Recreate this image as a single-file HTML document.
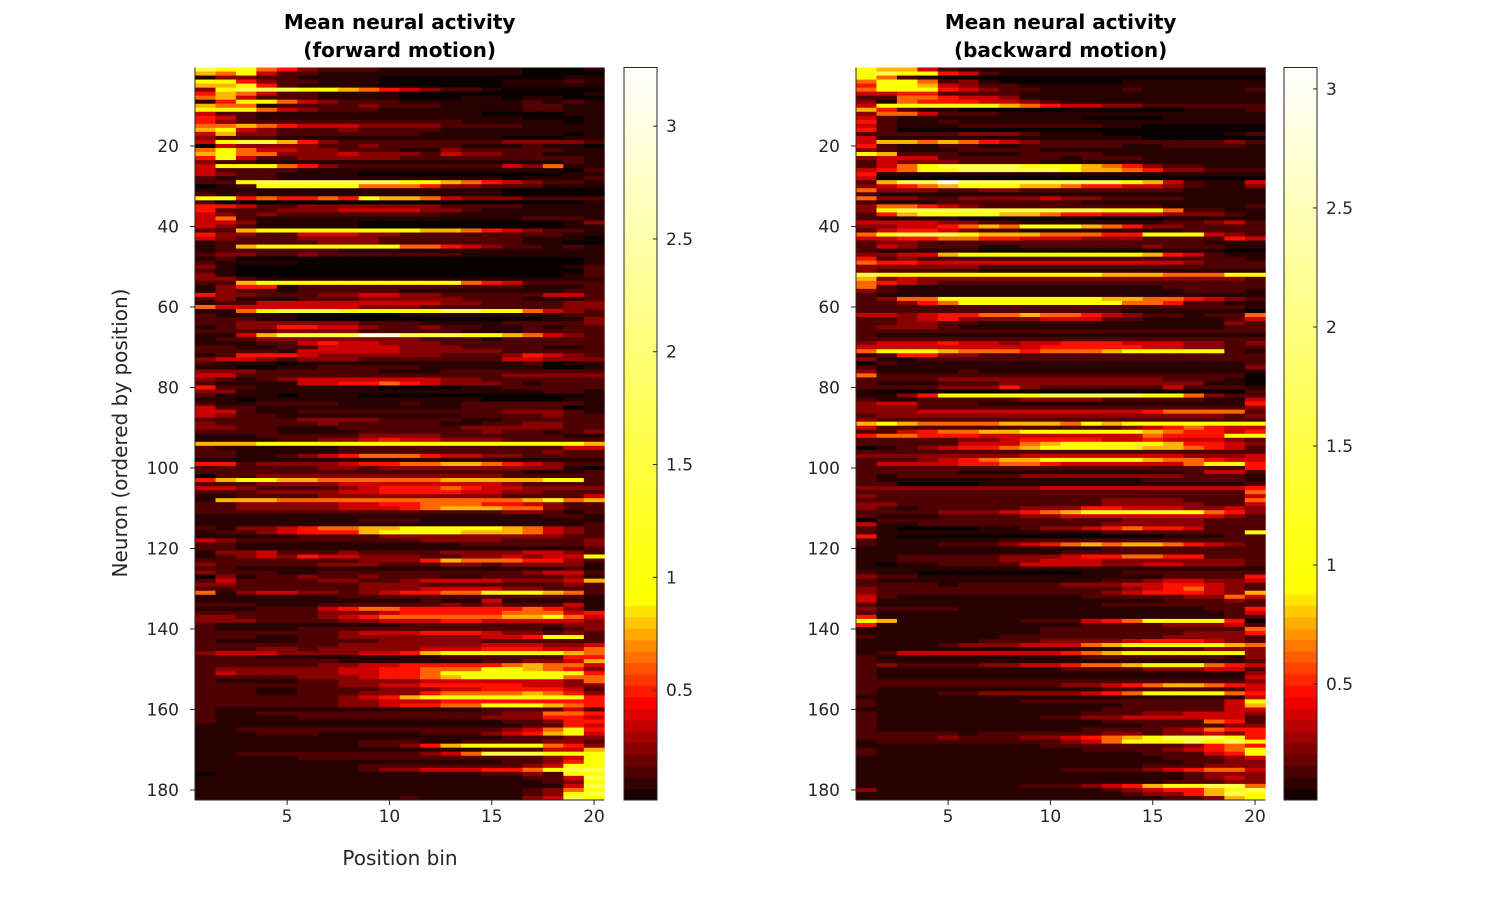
<!DOCTYPE html>
<html><head><meta charset="utf-8"><style>
html,body{margin:0;padding:0;background:#fff;}
svg{display:block;font-family:"DejaVu Sans","Liberation Sans",sans-serif;}
</style></head><body>
<svg id="fig" width="1500" height="900" viewBox="0 0 1500 900" xmlns="http://www.w3.org/2000/svg">
<rect width="1500" height="900" fill="#fff"/>
</svg>
<script>
// level code -> value
const levelCodes = ['0','1','2','3','4','5','6','7','8','9','w'];
const levelValues = [0.015,0.07,0.14,0.24,0.36,0.48,0.63,0.77,0.95,1.6,3.0];
const xTicks = [5,10,15,20];
const yTicks = [20,40,60,80,100,120,140,160,180];
const fwdCbTicks = [0.5,1,1.5,2,2.5,3];
const bwdCbTicks = [0.5,1,1.5,2,2.5,3];
const fwdRange = [0.013,3.26];
const bwdRange = [0.013,3.09];
const fwdRows = [
"98865322211111110001","76842211111111110000","13322111100000000011","88532211100000011121","77852111100000011111",
"38999887654322100000","57642211110000000001","67422211110001101100","15886432221111112121","76612222322211112211",
"88864322211111112211","42211111111111000011","54211111111111110001","53222222222221111101","66765444333322221111",
"78432223222211111111","47332222222111111101","32221111111111100011","48997532222222233332","04333322322221112110",
"68644332221132222211","78663334333243322111","58422333332222222221","32211111111111111121","48886532222222243611",
"42222111111111111102","43221111000000000011","21221111111111101112","22899999998876543221","01288888666533222111",
"11111111111111100000","21211111111111100000","88565565877643332222","20000000000000000001","55422333333322221111",
"52223334444332111111","43232222222211111111","46211111111111112221","44311111000000000013","43211111000000000011",
"22788888888776543221","53322444332222222211","43222333322222221110","12222233322222221100","12788888886654322121",
"12222221111111111111","23322322222221111111","12000000000000000001","21111000000000000001","31000000000000000012",
"21000000000000000002","31000000000000000012","33211111111111111111","22788888888886542222","13551222222222221112",
"13221222221111111122","53322233443322222442","23111222333332221112","12244444444433222233","64444444333222222233",
"11689998888899886432","21111000001111111122","22211000000000000113","22333333222111122223","12335544322322112122",
"22223333222221112222","11479999ww9998876432","12233333333222122222","11122454433322222222","22112244443332222112",
"22221444443333322222","12555433333322235432","34432333222222244333","21110111111111112011","11001122222111111001",
"33322222211122222222","44222222222222233333","32123444444433222222","21111445565433321222","52211111100001122222",
"33111111111111111221","21110111000000000001","11011111111111000011","21122221112112222221","42211111111112222201",
"44211222222222233321","43221111111112222322","22222333322221122222","32222232222211223322","33221112222223333322",
"22221111222222322123","11122222333322222211","11112233454433322222","77788888888888888887","21111112222222222244",
"22111112222222222322","22112345666544332222","11111111111111111111","55233334556677654322","22222233233333333310",
"22222222222222221112","02233333333333322222","57887766666677777882","22233334444444432222","44322223455565443333",
"22233334455554433222","11222233333333322224","17776666666666667867","22333334455666554322","22333334445677766322",
"22222222222222233212","11111111111111111221","11111111222111111111","11111111111111111112","21334566778888876432",
"12234555788887776432","11111222233333333322","43222222222333322223","22111111111112222223","22111111111111111112",
"13342223222233334432","12343544333223343448","22222222333576665532","32222233322233233331","22111111111111111121",
"32221122222222223442","03122322322211222231","24222233223444433347","33222222333222222232","22222222333444433222",
"61344332345566888762","11111112222222222221","11111111111211411111","22211122222232322241","11122245665555556531",
"22222233345555566645","33222234566666677864","33322223344455444443","21111111112222222233","21111222222222222123",
"22222223444555433232","22211223333333445882","21111222233333222222","22222223333333444334","22233233333444555446",
"34443333445788888876","22211111111122222255","22222221111111223347","22222233445555567664","23333334455666887653",
"24333334455688888885","22222333455678888866","21111223333444444436","22222223344555554433","22211222233344555542",
"22211222333566667653","22222223457888888885","22222223344455555555","22222223345566888765","21111111111111222242",
"21122222222222233665","21111222222222333554","21111111111111122355","11111111111111112254","11222222222222234685",
"11122211111222345784","11111111111111122233","11111111222112222332","11111111223578888653","11111111111111222447",
"11222222222346999888","11111222222222222348","11111111111111122358","11111111222222223488","11111111233444556899",
"01111111111111223288","11111111111111112249","11111111111111111238","11111111111111111149","11111111111111112368",
"11111111111111112389","11111111112111113498"
];
const bwdRows = [
"87742111111111111111","89885421111111111111","86210000000000000000","68862310000001111111","58874322111111111111",
"68885432211112111112","44552222111111111111","22665443111111111111","31655544321111111111","48888887654433222222",
"75211000000000001112","36642221111111111111","42111111111000011111","52112111111111111111","42111222222211000000",
"52000000000000000000","22222333211100000012","41111111111111000000","47767654322222222232","52112211222221122221",
"32111222211111111111","87222111222211111111","34442222221222111111","24333222211111111111","24689999888765322111",
"45688999998776533222","51111111111111111111","40000000000000000000","2799w999999998742114","34567888776554432113",
"63332233222222221111","21111111111111111111","63322333343322221111","21112222222111111111","36654322222222211112",
"38999999999988862211","25788887765544433321","21111000000000011111","44443322111111122342","33445676888765332222",
"24554322111111112222","68999877766655888432","44556655444333222254","23322222222222222111","24322211222222322211",
"21111100000000011100","33447888888888754211","52322222222222222221","65544444444444443222","33333322222222222222",
"32222211111111111111","98888888888877766688","73433333333333333332","65432222222222222222","62111111111111122222",
"32111111111111112221","21111111111111111111","23668888888877665432","22356888888886652211","22222222222222222221",
"22222222222221111110","44345566766543221226","22345333344422111124","22332211111111111132","23332111111111111122",
"22222222222222222222","21111111111111111111","22222222222222222222","34445443445554443323","44444444455555443322",
"68887666566678888821","12553322222222222222","31122222222222222222","02111111111111111112","21111111111111111113",
"31111211111111111111","62222222222222222220","22223333333333322210","21112223333333333110","22223335322222242221",
"10000000000000000002","11358888899999886322","21122222333322222114","34422211111111111115","33322222222222222223",
"33344444444444566662","23333333333333333323","32222222222222222222","78766667776878888888","42222222222223456544",
"22456677888888765545","56655544444444655588","22222334555544544432","22222444678888875543","01234556788888776542",
"22222222222222222222","33333333444444443334","22234567788888766544","24444556654444446885","22222222222222222225",
"22222111111111112442","21222222333333332221","21111111111111222221","22000011111111111112","33333333344444444445",
"22222222222222222226","32222222222222222224","22222222222233332226","33222222222233333224","32122222333554443343",
"22223334567888888653","21112222334444444432","02222222222223333222","41122222222233333222","21000011233456554222",
"21111111111122222228","51000000000000011122","21111112222222222222","21112223456767765432","11111111111122222222",
"11111111112222222222","11222223334556655222","11222223344433333332","10112222444433443332","11111111111111111111",
"21100000000112222222","32211111111111122225","21111111111122344334","22221222223334455432","32222222222223456432",
"32222222222234555437","42111111111222223364","41111111111111122232","21111111111122222222","32222111111111111225",
"21111111111111111124","51111111111111111122","87111111222456888850","51111111111222233342","11111111122222222226",
"11111111122222223335","21111112222222233332","11111122233334555432","11112333444678888876","11111111111112222333",
"12444444445678888883","21111111111222222213","21111111111111111112","23222233445667888654","21111111112222333442",
"21111111111111111113","21111111111111111114","22222222222222222223","22222222223345677654","21111111111122222224",
"21112233333456888865","11111111111111111114","21111111222222222248","21111111111112222247","11111111111122222244",
"21111111111222334443","21111111122334444442","21111111111122222652","21111111111111222233","21111111111222234655",
"22222122222233233435","22223222334567899985","12222222223468889898","11111111122222223565","21111111111222234568",
"21111111111111222458","11111111111111122234","11111111111111112233","11111111111111222333","11111111112222345664",
"11111111111111112333","11111111111111112343","11111111111111122233","11111111222345788996","31111111111123455789",
"11111111111112335798","11111111111111122378"
];
const NROWS = 182, NCOLS = 20;
const NS = 'http://www.w3.org/2000/svg';
const svg = document.getElementById('fig');
function mk(tag, attrs, parent){const e=document.createElementNS(NS,tag);for(const k in attrs)e.setAttribute(k,attrs[k]);(parent||svg).appendChild(e);return e;}
function clamp(x){return Math.max(0,Math.min(1,x));}
function colorOf(v,vmax){
  const r=clamp(v/0.45), g=clamp((v-0.45)/0.45), b=clamp((v-0.92)/(vmax-0.92));
  return 'rgb('+Math.round(r*255)+','+Math.round(g*255)+','+Math.round(b*255)+')';
}
function decode(rows){
  const out=[];
  for(let i=0;i<NROWS;i++){
    let s=(rows[i]||'11111111111111111111');
    s=(s+'11111111111111111111').slice(0,NCOLS);
    out.push(s.split('').map(ch=>{const k=levelCodes.indexOf(ch);return levelValues[k<0?1:k];}));
  }
  return out;
}
function panel(opt){
  const {left,right,top,bottom,rows,range,cbX,cbW,cbTicks,title,name}=opt;
  const data=decode(rows);
  const colW=(right-left)/NCOLS, rowH=(bottom-top)/NROWS;
  const xs=c=>left+(c-0.5)*colW;
  const ys=r=>top+(r-0.5)*rowH;
  const g=mk('g',{});
  
  
  for(let r=0;r<NROWS;r++){
    for(let c=0;c<NCOLS;c++){
      const cell=mk('rect',{x:(xs(c+1)-colW/2).toFixed(2),y:(ys(r+1)-rowH/2).toFixed(2),width:(colW+0.4).toFixed(2),height:(rowH+0.4).toFixed(2),fill:colorOf(data[r][c],range[1])},g);
      
      
    }
  }
  const ax=mk('g',{stroke:'#262626','stroke-width':1,fill:'none'});
  
  
  mk('line',{x1:left,y1:top,x2:left,y2:bottom},ax);
  mk('line',{x1:left,y1:bottom,x2:right,y2:bottom},ax);
  yTicks.forEach(t=>{
    const y=ys(t);
    mk('line',{x1:left-5,y1:y,x2:left,y2:y},ax);
    const tx=mk('text',{x:left-16,y:y+6,'text-anchor':'end','font-size':17,fill:'#262626'});
    
    
    tx.textContent=t;
  });
  xTicks.forEach(t=>{
    const x=xs(t);
    mk('line',{x1:x,y1:bottom,x2:x,y2:bottom+5},ax);
    const tx=mk('text',{x:x,y:bottom+22,'text-anchor':'middle','font-size':17,fill:'#262626'});
    
    
    tx.textContent=t;
  });
  const cx=(left+right)/2;
  const t1=mk('text',{x:cx,y:29,'text-anchor':'middle','font-size':20,'font-weight':'bold',fill:'#000'});
  
  
  mk('tspan',{x:cx,dy:0},t1).textContent=title[0];
  mk('tspan',{x:cx,y:57},t1).textContent=title[1];
  const cb=mk('g',{});
  
  
  const vs=v=>bottom-(v-range[0])/(range[1]-range[0])*(bottom-top);
  const N=64;
  for(let i=0;i<N;i++){
    const v0=range[0]+(range[1]-range[0])*i/N, v1=range[0]+(range[1]-range[0])*(i+1)/N;
    mk('rect',{x:cbX,y:vs(v1).toFixed(2),width:cbW,height:(vs(v0)-vs(v1)+0.5).toFixed(2),fill:colorOf((v0+v1)/2,range[1])},cb);
  }
  mk('rect',{x:cbX,y:top,width:cbW,height:bottom-top,fill:'none',stroke:'#262626','stroke-width':1},cb);
  cbTicks.forEach(t=>{
    const y=vs(t);
    mk('line',{x1:cbX+cbW-4,y1:y,x2:cbX+cbW,y2:y,stroke:'#262626'},cb);
    const tx=mk('text',{x:cbX+cbW+9,y:y+6,'font-size':17,fill:'#262626'},cb);
    
    
    tx.textContent=t;
  });
}
panel({left:195,right:604.3,top:67.5,bottom:800,rows:fwdRows,range:fwdRange,cbX:624,cbW:33,cbTicks:fwdCbTicks,title:['Mean neural activity','(forward motion)'],name:'forward'});
panel({left:856,right:1265.3,top:67.5,bottom:800,rows:bwdRows,range:bwdRange,cbX:1284,cbW:33,cbTicks:bwdCbTicks,title:['Mean neural activity','(backward motion)'],name:'backward'});
const xl=mk('text',{x:400,y:865,'text-anchor':'middle','font-size':20,fill:'#262626'});


xl.textContent='Position bin';
const yl=mk('text',{x:0,y:0,'text-anchor':'middle','font-size':20,fill:'#262626',transform:'translate(127,433) rotate(-90)'});


yl.textContent='Neuron (ordered by position)';
</script>
</body></html>
